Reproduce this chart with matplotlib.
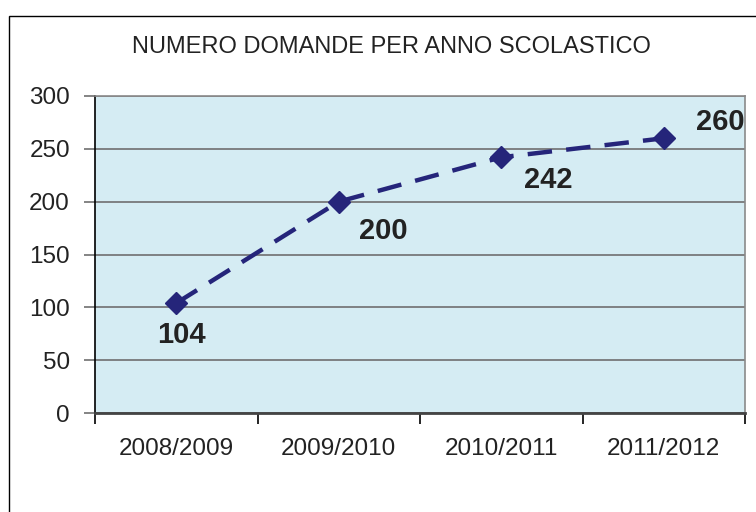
import matplotlib
matplotlib.use('Agg')
import matplotlib.pyplot as plt
from matplotlib.patches import Rectangle

plt.rcParams['font.family'] = ['Liberation Sans', 'DejaVu Sans']

anni = ['2008/2009', '2009/2010', '2010/2011', '2011/2012']
domande = [104, 200, 242, 260]
# label offsets (points) relative to each marker
offsets = [(3.6, -23), (32.4, -21), (34, -16), (41, 12)]

C_LINE = '#25257A'
C_BG = '#D5ECF3'

fig = plt.figure(figsize=(7.56, 5.12), dpi=100)
ax = fig.add_axes([95 / 756, 1 - 413 / 512, 650 / 756, 317 / 512])

# outer chart border
fig.patches.append(Rectangle((9 / 756, -0.2), 1.0, 1.2 - 16 / 512,
                             transform=fig.transFigure, fill=False,
                             ec='black', lw=1.0))

ax.set_facecolor(C_BG)
x = list(range(len(anni)))
ax.plot(x, domande, color=C_LINE, lw=3.2, ls=(0, (5.5, 3.2)),
        marker='D', ms=11, mfc=C_LINE, mec=C_LINE, zorder=3)

for xi, v, off in zip(x, domande, offsets):
    ax.annotate(str(v), (xi, v), textcoords='offset points', xytext=off,
                ha='center', va='center', fontsize=21, fontweight='bold',
                color='#222222', annotation_clip=False)

ax.set_xlim(-0.5, len(anni) - 0.5)
ax.set_ylim(0, 300)
ax.set_yticks(range(0, 301, 50))
ax.yaxis.grid(True, color='#6f6f6f', lw=1.2)
ax.set_axisbelow(True)

ax.set_xticks([i - 0.5 for i in range(len(anni) + 1)])
ax.set_xticklabels([])
ax.set_xticks(x, minor=True)
ax.set_xticklabels(anni, minor=True)
ax.tick_params(axis='x', which='major', length=8, width=1.2, color='black')
ax.tick_params(axis='x', which='minor', length=0, pad=18, labelsize=17.5,
               labelcolor='#222222')
ax.tick_params(axis='y', length=8, width=1.2, color='#6f6f6f', pad=10,
               labelsize=17.5, labelcolor='#222222')

for s in ('top', 'right'):
    ax.spines[s].set_color('#8a8a8a')
    ax.spines[s].set_linewidth(1.2)
ax.spines['left'].set_color('black')
ax.spines['left'].set_linewidth(1.2)
ax.spines['bottom'].set_color('#444444')
ax.spines['bottom'].set_linewidth(2.0)

fig.text(391 / 756, 1 - 47 / 512, 'NUMERO DOMANDE PER ANNO SCOLASTICO',
         ha='center', va='center', fontsize=17, color='#222222')

fig.savefig('out.png', dpi=100)
